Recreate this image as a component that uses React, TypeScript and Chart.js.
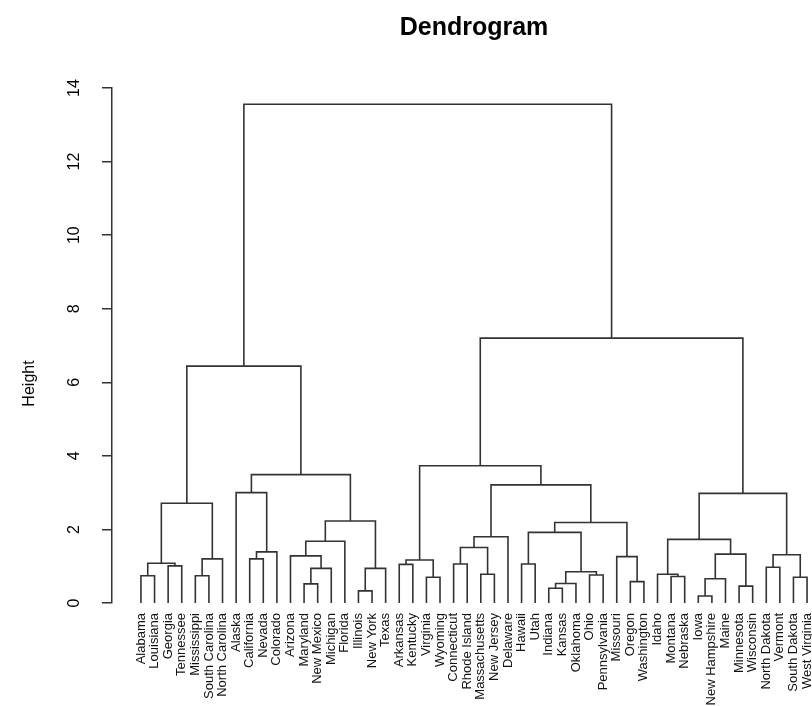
import React, { useEffect, useRef } from "react";
import { Chart, registerables } from "chart.js";

Chart.register(...registerables);

// Leaf labels in dendrogram order
const states: string[] = [
  "Alabama", "Louisiana", "Georgia", "Tennessee", "Mississippi", "South Carolina",
  "North Carolina", "Alaska", "California", "Nevada", "Colorado", "Arizona",
  "Maryland", "New Mexico", "Michigan", "Florida", "Illinois", "New York", "Texas",
  "Arkansas", "Kentucky", "Virginia", "Wyoming", "Connecticut", "Rhode Island",
  "Massachusetts", "New Jersey", "Delaware", "Hawaii", "Utah", "Indiana", "Kansas",
  "Oklahoma", "Ohio", "Pennsylvania", "Missouri", "Oregon", "Washington", "Idaho",
  "Montana", "Nebraska", "Iowa", "New Hampshire", "Maine", "Minnesota", "Wisconsin",
  "North Dakota", "Vermont", "South Dakota", "West Virginia",
];

// Merge table (R hclust convention): negative = leaf number, positive = earlier merge step
const mergeLeft: number[] = [
  -42, -17, -31, -45, -13, -33, -37, -44, -22, -49,
  -40, -1, -5, -34, -26, -39, 6, -15, -19, -47,
  -3, -20, -24, -29, 12, 9, -7, -9, -36, -12,
  10, 4, -11, 15, -16, 16, -28, 17, 29, 19,
  25, 31, -8, 37, 40, 26, 41, 42, 47,
];
const mergeRight: number[] = [
  -43, -18, -32, -46, -14, 3, -38, 1, -23, -50,
  -41, -2, -6, -35, -27, 11, 14, 5, 2, -48,
  -4, -21, -25, -30, 21, 22, 13, -10, 7, 18,
  20, 8, 28, 23, 30, 32, 34, 24, 38, 35,
  27, 36, 33, 39, 43, 44, 45, 46, 48,
];
const mergeHeight: number[] = [
  0.19, 0.33, 0.40, 0.46, 0.52, 0.53, 0.58, 0.66, 0.70, 0.70,
  0.72, 0.74, 0.74, 0.76, 0.78, 0.78, 0.85, 0.94, 0.94, 0.97,
  1.01, 1.05, 1.06, 1.06, 1.08, 1.17, 1.20, 1.20, 1.26, 1.28,
  1.31, 1.33, 1.39, 1.51, 1.68, 1.73, 1.80, 1.92, 2.19, 2.23,
  2.71, 2.98, 3.00, 3.21, 3.49, 3.73, 6.44, 7.20, 13.56,
];

const yTicks: number[] = [0, 2, 4, 6, 8, 10, 12, 14];
const titleText = "Dendrogram";
const yTitle = "Height";

const FONT = '"Liberation Sans", Arial, Helvetica, sans-serif';
const LINE = "#333333";

function buildSegments() {
  const nodeX: number[] = [];
  const nodeH: number[] = [];
  const pos = (ref: number) =>
    ref < 0 ? { x: -ref, h: 0 } : { x: nodeX[ref - 1], h: nodeH[ref - 1] };
  const segs: { x: number; y: number }[][] = [];
  for (let i = 0; i < mergeHeight.length; i++) {
    const a = pos(mergeLeft[i]);
    const b = pos(mergeRight[i]);
    const H = mergeHeight[i];
    nodeX[i] = (a.x + b.x) / 2;
    nodeH[i] = H;
    segs.push([
      { x: a.x, y: a.h },
      { x: a.x, y: H },
      { x: b.x, y: H },
      { x: b.x, y: b.h },
    ]);
  }
  return segs;
}

const rAxisText = {
  id: "rAxisText",
  afterDraw(chart: any) {
    const { ctx, chartArea } = chart;
    const ys = chart.scales.y;
    ctx.save();
    ctx.fillStyle = "#000";
    ctx.textAlign = "center";
    ctx.textBaseline = "middle";
    ctx.font = `16px ${FONT}`;
    for (const v of yTicks) {
      const py = ys.getPixelForValue(v);
      ctx.save();
      ctx.translate(chartArea.left - 37, py);
      ctx.rotate(-Math.PI / 2);
      ctx.fillText(String(v), 0, 0);
      ctx.restore();
    }
    ctx.save();
    ctx.translate(chartArea.left - 82, (chartArea.top + chartArea.bottom) / 2 + 38);
    ctx.rotate(-Math.PI / 2);
    ctx.fillText(yTitle, 0, 0);
    ctx.restore();
    ctx.restore();
  },
};

export default function App() {
  const ref = useRef<HTMLCanvasElement | null>(null);

  useEffect(() => {
    if (!ref.current) return;
    Chart.defaults.font.family = FONT;
    const segs = buildSegments();
    const chart = new Chart(ref.current, {
      type: "scatter",
      data: {
        datasets: segs.map((s) => ({
          data: s,
          showLine: true,
          borderColor: LINE,
          borderWidth: 1.6,
          pointRadius: 0,
          pointHoverRadius: 0,
          tension: 0,
          fill: false,
          xAxisID: "x",
          yAxisID: "y",
        })),
      },
      options: {
        animation: false,
        responsive: false,
        devicePixelRatio: 1,
        layout: { padding: 0 },
        plugins: {
          legend: { display: false },
          tooltip: { enabled: false },
          title: {
            display: true,
            text: titleText,
            color: "#000",
            font: { size: 25, weight: "bold", family: FONT },
            padding: { top: 13, bottom: 45 },
          },
        },
        scales: {
          x: {
            type: "linear",
            position: "bottom",
            min: -1.13,
            max: 52.13,
            grid: { display: false, drawTicks: true, tickLength: 10 },
            border: { display: false },
            afterBuildTicks: (s: any) => {
              s.ticks = states.map((_, i) => ({ value: i + 1 }));
            },
            afterFit: (s: any) => {
              s.height = 103;
            },
            ticks: {
              autoSkip: false,
              minRotation: 90,
              maxRotation: 90,
              padding: 0,
              color: "#111",
              font: { size: 13, family: FONT },
              callback: (_v: any, i: number) => states[i],
            },
          },
          y: {
            type: "linear",
            position: "left",
            min: 0,
            max: 14,
            afterFit: (s: any) => {
              s.width = 112;
            },
            grid: {
              display: true,
              drawOnChartArea: false,
              drawTicks: true,
              tickLength: 10,
              color: LINE,
              lineWidth: 1.5,
            },
            border: { display: true, color: LINE, width: 1.5 },
            ticks: { display: false, stepSize: 2 },
          },
          yR: {
            type: "linear",
            position: "right",
            afterFit: (s: any) => {
              s.width = 112;
            },
            grid: { display: false, drawTicks: false },
            border: { display: false },
            ticks: { display: false },
          },
        },
      } as any,
      plugins: [rAxisText],
    });
    return () => chart.destroy();
  }, []);

  return (
    <div
      style={{
        position: "fixed",
        left: 0,
        top: 0,
        width: 812,
        height: 706,
        overflow: "hidden",
        background: "#fff",
      }}
    >
      <canvas ref={ref} width={948} height={706} style={{ display: "block" }} />
    </div>
  );
}
